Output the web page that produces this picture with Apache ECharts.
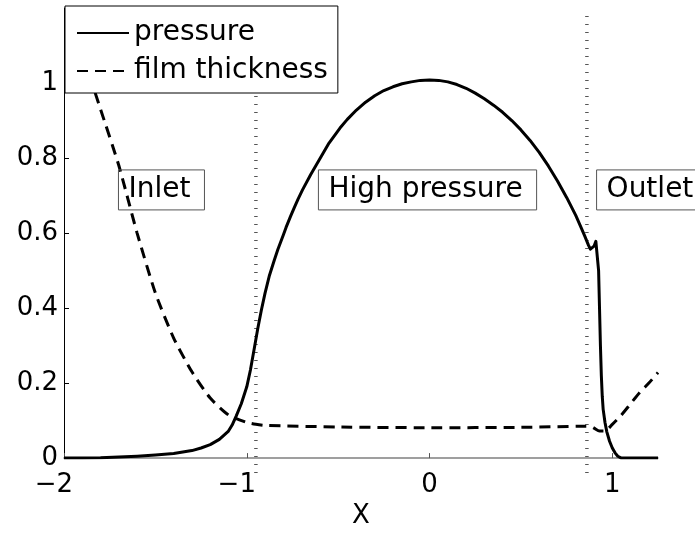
<!DOCTYPE html>
<html>
<head>
<meta charset="utf-8">
<script src="https://cdn.jsdelivr.net/npm/echarts@6/dist/echarts.min.js"></script>
<style>html,body{margin:0;padding:0;background:#fff;}#c{width:695px;height:534px;}</style>
</head>
<body>
<div id="c"></div>
<script>
const pressureX = [-2,-1.9,-1.8,-1.7,-1.6,-1.5,-1.4,-1.3,-1.25,-1.2,-1.15,-1.1,-1.08,-1.058,-1.03,-1.0,-0.98,-0.958,-0.94,-0.92,-0.9,-0.876,-0.85,-0.83,-0.8,-0.785,-0.76,-0.74,-0.72,-0.695,-0.65,-0.6,-0.55,-0.49,-0.45,-0.4,-0.35,-0.3,-0.25,-0.2,-0.15,-0.1,-0.05,0,0.05,0.1,0.15,0.2,0.25,0.3,0.35,0.4,0.45,0.5,0.55,0.6,0.65,0.7,0.75,0.8,0.83,0.85,0.87,0.88,0.89,0.9,0.91,0.92,0.925,0.93,0.935,0.94,0.945,0.95,0.96,0.97,0.985,1.0,1.015,1.03,1.04,1.05,1.25];
const pressureY = [0,0.0005,0.001,0.003,0.005,0.008,0.012,0.02,0.027,0.036,0.05,0.072,0.088,0.112,0.145,0.19,0.235,0.295,0.345,0.395,0.44,0.487,0.527,0.556,0.595,0.615,0.645,0.668,0.69,0.715,0.756,0.798,0.84,0.88,0.903,0.928,0.949,0.966,0.98,0.99,0.998,1.003,1.007,1.008,1.007,1.003,0.996,0.986,0.973,0.958,0.941,0.922,0.9,0.875,0.847,0.815,0.779,0.739,0.695,0.647,0.614,0.591,0.567,0.557,0.555,0.565,0.578,0.575,0.5,0.4,0.3,0.22,0.165,0.13,0.095,0.07,0.045,0.027,0.014,0.005,0.001,0,0];
const filmX = [-2,-1.9,-1.8,-1.7,-1.6,-1.5,-1.4,-1.3,-1.2,-1.1,-1.0,-0.95,-0.9,-0.5,0,0.5,0.85,0.88,0.9,0.93,0.96,1.0,1.05,1.1,1.15,1.2,1.25];
const filmY = [1.25,1.08,0.93,0.78,0.6,0.44,0.32,0.23,0.16,0.115,0.095,0.09,0.087,0.083,0.081,0.082,0.085,0.085,0.08,0.072,0.072,0.09,0.115,0.145,0.175,0.2,0.228];
const regionBoundsX = [-0.95, 0.861];
const regionLineY = [-0.04, 1.18];
const regionNames = ['Inlet', 'High pressure', 'Outlet'];
const regionLabelX = [-1.702, -0.608, 0.914];
const regionLabelY = [0.715, 0.715, 0.715];
const seriesNames = ['pressure', 'film thickness'];

const FONT = 'DejaVu Sans';
const pressureData = pressureX.map((x, i) => [x, pressureY[i]]);
const filmData = filmX.map((x, i) => [x, filmY[i]]);
const xLabel = v => v < 0 ? '{neg|\u2212' + Math.abs(v) + '}' : String(v);

const series = [];
regionBoundsX.forEach((bx, k) => {
  series.push({
    type: 'line', name: 'bound' + k, silent: true, clip: false, symbol: 'none',
    data: regionLineY.map(y => [bx, y]),
    lineStyle: { color: '#555', width: 3.5, type: [1.2, 6.8] }, z: 1
  });
});
series.push({
  type: 'line', name: seriesNames[0], data: pressureData, symbol: 'none', smooth: false,
  lineStyle: { color: '#000', width: 3, type: 'solid', join: 'round' }, itemStyle: { color: '#000' }, z: 3
});
series.push({
  type: 'line', name: seriesNames[1], data: filmData, symbol: 'none', smooth: 0.2,
  lineStyle: { color: '#000', width: 3, type: [11, 7] }, itemStyle: { color: '#000' }, z: 3
});
series.push({
  type: 'scatter', name: 'labels', silent: true, clip: false, symbolSize: 0,
  itemStyle: { opacity: 1, color: '#000' },
  data: regionNames.map((n, i) => ({ value: [regionLabelX[i], regionLabelY[i]], name: n })),
  label: {
    show: true, position: 'right', distance: 0, formatter: p => p.name,
    fontFamily: FONT, fontSize: 28, color: '#000', opacity: 1, lineHeight: 32,
    borderColor: '#555', borderWidth: 1, padding: [4, 14, 4, 10]
  }, z: 4
});

const chart = echarts.init(document.getElementById('c'), null, { renderer: 'canvas' });
chart.setOption({
  animation: false,
  backgroundColor: '#fff',
  grid: { left: 64, right: 37, top: 8, bottom: 72, containLabel: false },
  legend: {
    data: [
      { name: seriesNames[0] },
      { name: seriesNames[1] }
    ],
    orient: 'vertical', left: 65, top: 6,
    itemWidth: 52, itemHeight: 14, itemGap: 6,
    itemStyle: { opacity: 0 },
    padding: [11, 10, 6, 11],
    borderColor: '#000', borderWidth: 1, backgroundColor: '#fff',
    textStyle: { fontFamily: FONT, fontSize: 28, color: '#000', lineHeight: 32 },
    z: 10
  },
  xAxis: {
    type: 'value', min: -2, max: 1.25, interval: 1,
    name: 'X', nameLocation: 'middle', nameGap: 38,
    nameTextStyle: { fontFamily: FONT, fontSize: 26, color: '#000' },
    axisLine: { show: true, onZero: false, lineStyle: { color: '#808080', width: 1.5 } },
    axisTick: { show: true, inside: true, length: 5, lineStyle: { color: '#555' } },
    axisLabel: { showMaxLabel: false, fontFamily: FONT, fontSize: 26, color: '#000', margin: 14, formatter: xLabel,
      rich: { neg: { fontFamily: FONT, fontSize: 26, color: '#000', padding: [0, 20, 0, 0] } } },
    splitLine: { show: false }
  },
  yAxis: {
    type: 'value', min: 0, max: 1.2, interval: 0.2,
    axisLine: { show: true, onZero: false, lineStyle: { color: '#000', width: 1 } },
    axisTick: { show: true, inside: true, length: 5, lineStyle: { color: '#000' } },
    axisLabel: { showMaxLabel: false, fontFamily: FONT, fontSize: 26, color: '#000', margin: 6,
      formatter: v => String(+v.toFixed(1)) },
    splitLine: { show: false }
  },
  series: series
});
</script>
</body>
</html>
